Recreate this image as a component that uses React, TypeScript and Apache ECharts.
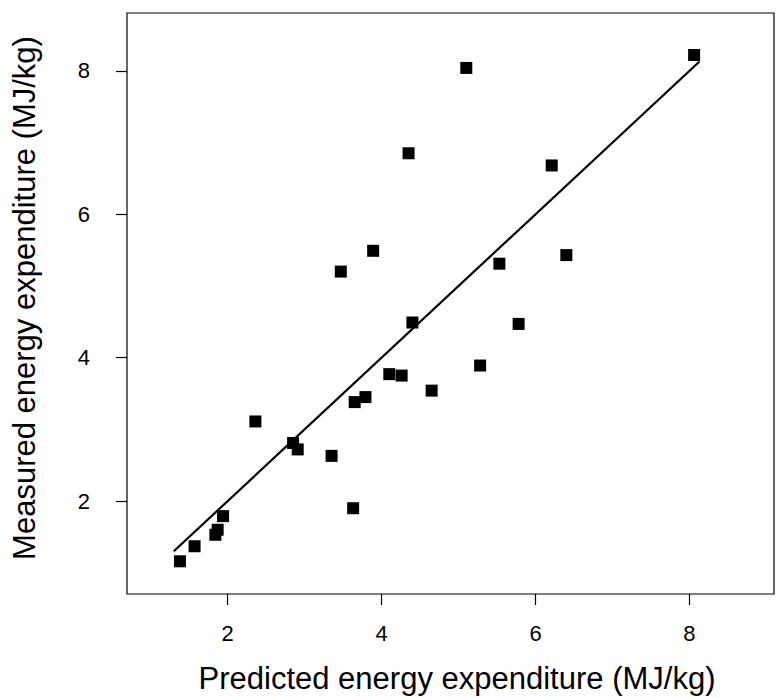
import React, { useEffect, useRef } from "react";
import * as echarts from "echarts";

// Predicted energy expenditure (MJ/kg) — x values
const predicted: number[] = [
  1.38, 1.57, 1.84, 1.87, 1.94, 2.36, 2.85, 2.91, 3.35, 3.63, 3.65, 3.79, 4.1,
  4.26, 4.65, 5.28, 4.4, 5.78, 5.53, 6.4, 3.47, 3.89, 4.35, 6.21, 5.1, 8.06,
];
// Measured energy expenditure (MJ/kg) — y values
const measured: number[] = [
  1.16, 1.37, 1.53, 1.6, 1.79, 3.11, 2.81, 2.72, 2.63, 1.9, 3.38, 3.45, 3.77,
  3.75, 3.54, 3.89, 4.49, 4.47, 5.31, 5.43, 5.2, 5.49, 6.85, 6.68, 8.04, 8.22,
];
// Line of identity endpoints
const lineX: number[] = [1.3, 8.13];
const lineY: number[] = [1.3, 8.13];
// Tick labels
const xTicks: number[] = [2, 4, 6, 8];
const yTicks: number[] = [2, 4, 6, 8];

const xTitle = "Predicted energy expenditure (MJ/kg)";
const yTitle = "Measured energy expenditure (MJ/kg)";

const FONT = '"Liberation Sans", Arial, Helvetica, sans-serif';

export default function App() {
  const ref = useRef<HTMLDivElement>(null);
  useEffect(() => {
    if (!ref.current) return;
    const chart = echarts.init(ref.current, undefined, { renderer: "svg" });
    const points = predicted.map((x, i) => [x, measured[i]]);
    const linePts = lineX.map((x, i) => [x, lineY[i]]);
    chart.setOption({
      animation: false,
      backgroundColor: "#ffffff",
      textStyle: { fontFamily: FONT },
      grid: {
        left: 127,
        top: 13,
        right: 5,
        bottom: 103,
        show: true,
        borderColor: "#000000",
        borderWidth: 1.2,
        containLabel: false,
        outerBoundsMode: "none",
      },
      graphic: [
        {
          type: "text",
          x: 457,
          y: 678,
          style: {
            text: xTitle,
            fontSize: 31,
            fontFamily: FONT,
            fill: "#000",
            textAlign: "center",
            textVerticalAlign: "middle",
          },
        },
        {
          type: "text",
          x: 24.5,
          y: 298,
          rotation: Math.PI / 2,
          style: {
            text: yTitle,
            fontSize: 31,
            fontFamily: FONT,
            fill: "#000",
            textAlign: "center",
            textVerticalAlign: "middle",
          },
        },
      ],
      xAxis: {
        type: "value",
        min: 0.692,
        max: 9.098,
        axisLine: { show: false },
        splitLine: { show: false },
        axisTick: {
          show: true,
          inside: false,
          length: 11,
          customValues: xTicks,
          lineStyle: { color: "#000", width: 1.2 },
        },
        axisLabel: {
          show: true,
          customValues: xTicks,
          margin: 28,
          fontSize: 22,
          color: "#000",
          fontFamily: FONT,
        },
      },
      yAxis: {
        type: "value",
        min: 0.704,
        max: 8.806,
        axisLine: { show: false },
        splitLine: { show: false },
        axisTick: {
          show: true,
          inside: false,
          length: 11,
          customValues: yTicks,
          lineStyle: { color: "#000", width: 1.2 },
        },
        axisLabel: {
          show: true,
          customValues: yTicks,
          margin: 37,
          fontSize: 22,
          color: "#000",
          fontFamily: FONT,
        },
      },
      series: [
        {
          type: "line",
          data: linePts,
          symbol: "none",
          lineStyle: { color: "#000", width: 2.2 },
          z: 2,
        },
        {
          type: "scatter",
          data: points,
          symbol: "rect",
          symbolSize: 12,
          itemStyle: { color: "#000", opacity: 1 },
          z: 3,
        },
      ],
    });
    return () => chart.dispose();
  }, []);
  return (
    <div
      ref={ref}
      style={{ position: "fixed", left: 0, top: 0, width: 779, height: 697, background: "#fff" }}
    />
  );
}
